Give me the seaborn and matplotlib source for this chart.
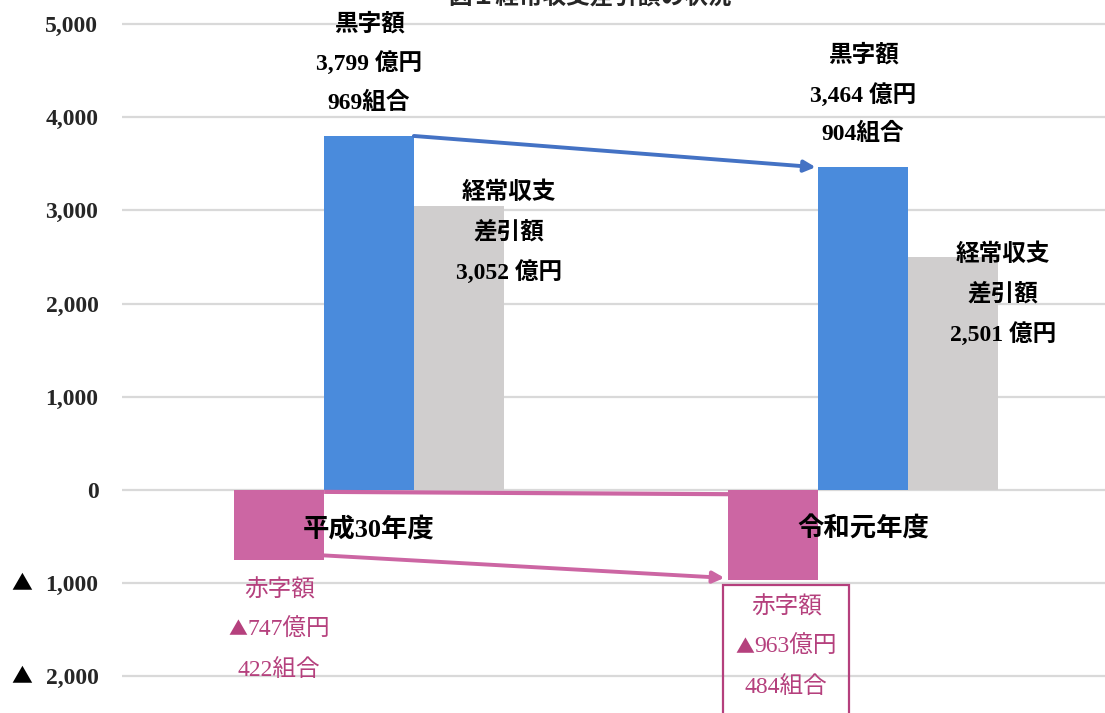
import matplotlib
matplotlib.use("Agg")
import matplotlib.pyplot as plt
import matplotlib.patches as mpatches
import matplotlib.transforms as mtransforms
import seaborn as sns
import pandas as pd

# ---- data ----
categories = ["平成30年度", "令和元年度"]
series = ["赤字額", "黒字額", "経常収支差引額"]
deficit = [-747, -963]          # 億円
surplus = [3799, 3464]          # 億円
balance = [3052, 2501]          # 億円
surplus_unions = [969, 904]     # 組合
deficit_unions = [422, 484]     # 組合
yticks = [-2000, -1000, 0, 1000, 2000, 3000, 4000, 5000]
ytick_labels = ["▲ 2,000", "▲ 1,000", "0", "1,000", "2,000", "3,000", "4,000", "5,000"]
title = "図１経常収支差引額の状況"

# ---- style ----
PINK = "#CC66A3"
BLUE = "#4A8BDC"
GRAY = "#D0CECE"
ARROW_BLUE = "#4472C4"
PINK_TEXT = "#B5407D"
SERIF = ['Liberation Serif', 'Noto Sans CJK JP', 'DejaVu Sans']
CJK = ['Noto Sans CJK JP', 'DejaVu Sans']

sns.set_theme(style="white")
plt.rcParams['font.family'] = SERIF

df = pd.DataFrame({
    "年度": categories * 3,
    "系列": [s for s in series for _ in categories],
    "値": deficit + surplus + balance,
})

W, H = 1105, 713
fig = plt.figure(figsize=(W / 100, H / 100), dpi=100)
ax = fig.add_axes([122 / W, 0, 988 / W, 1])

sns.barplot(data=df, x="年度", y="値", hue="系列", order=categories,
            hue_order=series, palette=[PINK, BLUE, GRAY], width=0.545,
            gap=0, saturation=1, errorbar=None, legend=False, ax=ax,
            linewidth=0, edgecolor='none', zorder=2)

ax.set_xlim(-0.5, 1.5)
ax.set_ylim(-2393, 5258)
ax.set_yticks(yticks)
ax.set_yticklabels([l.replace("▲", "").strip() for l in ytick_labels],
                   fontsize=17, fontweight='bold', family=SERIF)
ax.tick_params(axis='y', length=0, pad=17)
ax.tick_params(axis='x', labelbottom=False, length=0)
ax.yaxis.grid(True, color="#D9D9D9", lw=1.6, zorder=0)
ax.set_axisbelow(True)
for s in ax.spines.values():
    s.set_visible(False)
ax.set_xlabel("")
ax.set_ylabel("")

fig.canvas.draw()
renderer = fig.canvas.get_renderer()
ID = mtransforms.IdentityTransform()

# triangles of negative tick labels
for v, l in zip(yticks, ytick_labels):
    if l.startswith("▲"):
        _, Y = ax.transData.transform((0, v))
        fig.text(22, Y, "▲", transform=ID, ha='center', va='center',
                 fontsize=15, family=CJK, color='black')

pink_bars, blue_bars, gray_bars = [list(c) for c in ax.containers]

def cx(b):
    return b.get_x() + b.get_width() / 2

def put(X, Y, text, color, fs, weight):
    if text.startswith("▲"):
        rest = text[1:]
        t1 = fig.text(0, Y, "▲", transform=ID, ha='left', va='center',
                      fontsize=fs * 0.8, family=CJK, color=color, zorder=5)
        t2 = fig.text(0, Y, rest, transform=ID, ha='left', va='center',
                      fontsize=fs, family=SERIF, color=color,
                      fontweight=weight, zorder=5)
        w1 = t1.get_window_extent(renderer).width
        w2 = t2.get_window_extent(renderer).width
        x0 = X - (w1 + w2) / 2
        t1.set_x(x0)
        t2.set_x(x0 + w1)
    else:
        fig.text(X, Y, text, transform=ID, ha='center', va='center',
                 fontsize=fs, family=SERIF, color=color, fontweight=weight,
                 zorder=5)

def stack(b, yval, lines, dx, dy0, color, weight, step=39.5, fs=17):
    X, Y = ax.transData.transform((cx(b), yval))
    for i, t in enumerate(lines):
        put(X + dx, Y + dy0 - i * step, t, color, fs, weight)

# arrows / connector lines
b0, b1 = blue_bars
ax.annotate('', xy=(b1.get_x() - 0.005, b1.get_height()),
            xytext=(b0.get_x() + b0.get_width(), b0.get_height()),
            arrowprops=dict(arrowstyle='-|>', color=ARROW_BLUE, lw=2.8,
                            mutation_scale=17, shrinkA=0, shrinkB=0),
            zorder=4)
p0, p1 = pink_bars
ax.plot([p0.get_x() + p0.get_width(), p1.get_x()], [-20, -45],
        color=PINK, lw=3, zorder=3, solid_capstyle='butt')
ax.annotate('', xy=(p1.get_x() - 0.008, p1.get_height() + 20),
            xytext=(p0.get_x() + p0.get_width(), p0.get_height() + 45),
            arrowprops=dict(arrowstyle='-|>', color=PINK, lw=2.8,
                            mutation_scale=17, shrinkA=0, shrinkB=0),
            zorder=4)

# labels
for i in range(2):
    stack(blue_bars[i], surplus[i],
          ["黒字額", f"{surplus[i]:,} 億円", f"{surplus_unions[i]}組合"],
          0, 112, "black", 'bold')
gray_dy = [13, 2]
for i in range(2):
    stack(gray_bars[i], balance[i],
          ["経常収支", "差引額", f"{balance[i]:,} 億円"],
          50, gray_dy[i], "black", 'bold')
pink_dy = [-31, -28]
pink_dx = [0, 13]
for i in range(2):
    stack(pink_bars[i], deficit[i],
          ["赤字額", f"▲{abs(deficit[i])}億円", f"{deficit_unions[i]}組合"],
          pink_dx[i], pink_dy[i], PINK_TEXT, 'normal')

# category labels
for i, c in enumerate(categories):
    X, Y = ax.transData.transform((cx(blue_bars[i]), 0))
    fig.text(X, Y - 39, c, transform=ID, ha='center', va='center',
             fontsize=19, fontweight='bold', family=SERIF, color='black',
             zorder=5)

# box around second deficit label
px, py = ax.transData.transform((cx(p1), p1.get_height()))
box = mpatches.Rectangle((px - 50, py - 150), 126, 145, transform=ID,
                         fill=False, edgecolor=PINK_TEXT, lw=1.6,
                         clip_on=False, zorder=5)
fig.patches.append(box)

fig.text(590 / W, 1 + 2 / H, title, ha='center', va='center', fontsize=17,
         family=CJK, fontweight='bold')

fig.savefig("out.png", dpi=100)
